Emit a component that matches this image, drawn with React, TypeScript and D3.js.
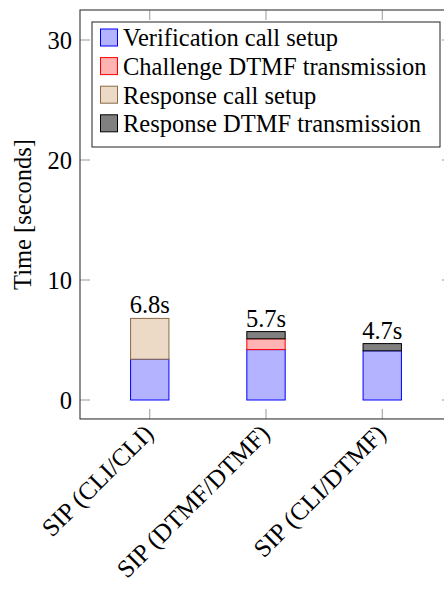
import React from 'react';
import * as d3 from 'd3';

const categories = ['SIP (CLI/CLI)', 'SIP (DTMF/DTMF)', 'SIP (CLI/DTMF)'];
const verificationSetup = [3.4, 4.2, 4.1];
const challengeDtmf = [0, 0.9, 0];
const responseSetup = [3.4, 0, 0];
const responseDtmf = [0, 0.6, 0.6];
const totalLabels = ['6.8s', '5.7s', '4.7s'];
const yTicks = [0, 10, 20, 30];

const seriesNames = [
  'Verification call setup',
  'Challenge DTMF transmission',
  'Response call setup',
  'Response DTMF transmission',
];
const fills = ['#b3b3ff', '#ffb3b3', '#ecd9c6', '#808080'];
const strokes = ['#0000ff', '#ff0000', '#8b6b47', '#000000'];

const W = 444;
const H = 594;
const FONT = '"Liberation Serif", "Times New Roman", serif';
const FS = 24.5;

export default function App() {
  // plot frame: left 80, right ~452 (cut off), top 10, bottom 419
  const x = d3.scaleLinear().domain([-0.6, 2.6]).range([80, 452]);
  const y = d3.scaleLinear().domain([0, 30]).range([400, 40]);
  const top = y(32.5);
  const bottom = y(-1.58);
  const left = x(-0.6);
  const right = x(2.6);
  const barW = x(0.33) - x(0);

  const rows = categories.map((c, i) => ({
    cat: i,
    s0: verificationSetup[i],
    s1: challengeDtmf[i],
    s2: responseSetup[i],
    s3: responseDtmf[i],
  }));
  const stack = d3.stack<any>().keys(['s0', 's1', 's2', 's3'])(rows);
  const tickLen = 10;

  return (
    <svg width={W} height={H} style={{position: 'absolute', left: 0, top: 0}} fontFamily={FONT}>
      <rect width={W} height={H} fill="#fff" />

      {/* ticks */}
      {yTicks.map(t => (
        <g key={'yt' + t} stroke="#999" strokeWidth={1}>
          <line x1={left} x2={left + tickLen} y1={y(t)} y2={y(t)} />
          <line x1={right - tickLen} x2={right} y1={y(t)} y2={y(t)} />
        </g>
      ))}
      {categories.map((c, i) => (
        <g key={'xt' + i} stroke="#999" strokeWidth={1}>
          <line x1={x(i)} x2={x(i)} y1={bottom} y2={bottom - tickLen} />
          <line x1={x(i)} x2={x(i)} y1={top} y2={top + tickLen} />
        </g>
      ))}

      {/* bars */}
      {stack.map((layer, k) =>
        layer.map((d, i) =>
          d[1] - d[0] > 0 ? (
            <rect
              key={k + '-' + i}
              x={x(i) - barW / 2}
              width={barW}
              y={y(d[1])}
              height={y(d[0]) - y(d[1])}
              fill={fills[k]}
              stroke={strokes[k]}
              strokeWidth={1}
            />
          ) : null
        )
      )}

      {/* total labels */}
      {categories.map((c, i) => {
        const total = verificationSetup[i] + challengeDtmf[i] + responseSetup[i] + responseDtmf[i];
        return (
          <text key={'tl' + i} x={x(i)} y={y(total) - 5} textAnchor="middle" fontSize={FS} fill="#000">
            {totalLabels[i]}
          </text>
        );
      })}

      {/* frame */}
      <rect x={left} y={top} width={right - left} height={bottom - top} fill="none" stroke="#333" strokeWidth={1.1} />

      {/* y tick labels */}
      {yTicks.map(t => (
        <text key={'yl' + t} x={left - 8} y={y(t)} dy="0.35em" textAnchor="end" fontSize={FS} fill="#000">
          {t}
        </text>
      ))}

      {/* y axis title */}
      <text
        transform={`translate(22,${(top + bottom) / 2}) rotate(-90)`}
        dy="0.35em"
        textAnchor="middle"
        fontSize={FS}
        fill="#000"
      >
        Time [seconds]
      </text>

      {/* x tick labels */}
      {categories.map((c, i) => (
        <text
          key={'xl' + i}
          transform={`translate(${x(i) - 1},${bottom + 10}) rotate(-45)`}
          dy="0.35em"
          textAnchor="end"
          fontSize={25}
          fill="#000"
        >
          {c}
        </text>
      ))}

      {/* legend */}
      <g>
        <rect x={92} y={22} width={348} height={125} fill="#fff" stroke="#222" strokeWidth={1} />
        {seriesNames.map((n, k) => {
          const cy = 37.5 + k * 28.6;
          return (
            <g key={'lg' + k}>
              <rect x={100.5} y={cy - 8.5} width={17} height={17} fill={fills[k]} stroke={strokes[k]} strokeWidth={1} />
              <text x={123} y={cy} dy="0.36em" fontSize={FS} fill="#000">
                {n}
              </text>
            </g>
          );
        })}
      </g>
    </svg>
  );
}
